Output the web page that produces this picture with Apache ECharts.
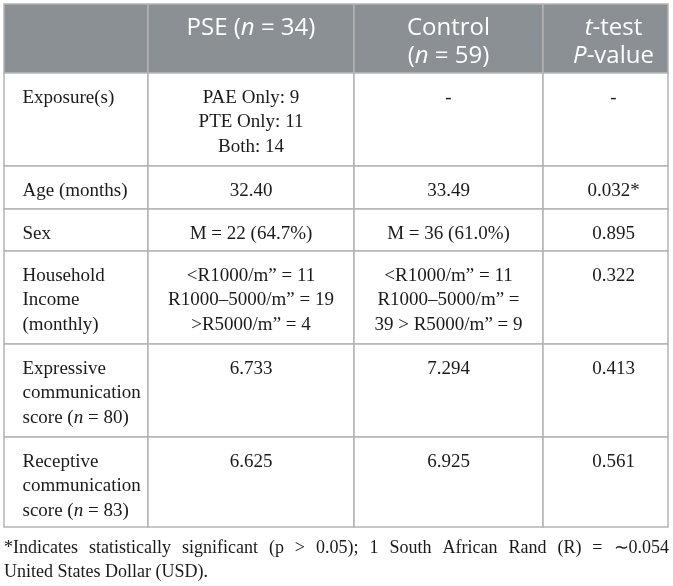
<!DOCTYPE html>
<html>
<head>
<meta charset="utf-8">
<script src="https://cdn.jsdelivr.net/npm/echarts@6/dist/echarts.min.js"></script>
<style>
  html, body { margin: 0; padding: 0; background: #ffffff; }
  #chart { width: 673px; height: 586px; }
</style>
</head>
<body>
<div id="chart"></div>
<script>
// ---------- DATA (text of the table) ----------
// "_x_" marks an italic fragment
const headers = ['', 'PSE (_n_ = 34)', 'Control\n(_n_ = 59)', '_t_-test\n_P_-value'];
const rowLabels = [
  'Exposure(s)',
  'Age (months)',
  'Sex',
  'Household\nIncome\n(monthly)',
  'Expressive\ncommunication\nscore (_n_ = 80)',
  'Receptive\ncommunication\nscore (_n_ = 83)'
];
const pseValues = [
  'PAE Only: 9\nPTE Only: 11\nBoth: 14',
  '32.40',
  'M = 22 (64.7%)',
  '<R1000/m\u201d = 11\nR1000\u20135000/m\u201d = 19\n>R5000/m\u201d = 4',
  '6.733',
  '6.625'
];
const controlValues = [
  '-',
  '33.49',
  'M = 36 (61.0%)',
  '<R1000/m\u201d = 11\nR1000\u20135000/m\u201d =\n39 > R5000/m\u201d = 9',
  '7.294',
  '6.925'
];
const pValues = ['-', '0.032*', '0.895', '0.322', '0.413', '0.561'];
const footnoteLines = [
  '*Indicates statistically significant (p > 0.05); 1 South African Rand (R) = \u223c0.054',
  'United States Dollar (USD).'
];

// ---------- LAYOUT (table units = px inside the grid) ----------
const colEdges = [0, 144, 350, 539, 664];
const rowEdges = [0, 69, 162, 205, 247, 340, 433, 523];
const colAnchor = [18.5, 247, 444.5, 609.5];
const headFirst = 24, headGap = 28.5;
const bodyFirst = 25, bodyGap = 24.5;

const columnsData = [rowLabels, pseValues, controlValues, pValues];
function cellText(c, r) {
  return r === 0 ? headers[c] : columnsData[c][r - 1];
}
function toRich(line) {
  const parts = line.split('_');
  let out = '';
  parts.forEach((p, i) => {
    if (p.length) out += '{' + (i % 2 ? 'i' : 'r') + '|' + p + '}';
  });
  return out;
}

const HEAD_FONT = '"Open Sans", "DejaVu Sans", sans-serif';
const BODY_FONT = '"Liberation Serif", "DejaVu Serif", serif';
const headRich = {
  r: { fontFamily: HEAD_FONT, fontSize: 24, fill: '#ffffff' },
  i: { fontFamily: HEAD_FONT, fontSize: 24, fontStyle: 'italic', fill: '#ffffff' }
};
const bodyRich = {
  r: { fontFamily: BODY_FONT, fontSize: 19, fill: '#1a1a1a' },
  i: { fontFamily: BODY_FONT, fontSize: 19, fontStyle: 'italic', fill: '#1a1a1a' }
};

const cells = [];
for (let r = 0; r < rowEdges.length - 1; r++) {
  for (let c = 0; c < colEdges.length - 1; c++) {
    cells.push([c, r]);
  }
}

function renderItem(params, api) {
  const c = api.value(0), r = api.value(1);
  const p1 = api.coord([colEdges[c], rowEdges[r]]);
  const p2 = api.coord([colEdges[c + 1], rowEdges[r + 1]]);
  const isHead = r === 0;
  const children = [{
    type: 'rect',
    shape: { x: p1[0], y: p1[1], width: p2[0] - p1[0], height: p2[1] - p1[1] },
    style: { fill: isHead ? '#8a9093' : '#ffffff', stroke: '#b4b4b4', lineWidth: 1.5 }
  }];
  const lines = cellText(c, r).split('\n');
  lines.forEach((ln, i) => {
    if (!ln) return;
    const y = rowEdges[r] + (isHead ? headFirst : bodyFirst) + i * (isHead ? headGap : bodyGap);
    const p = api.coord([colAnchor[c], y]);
    children.push({
      type: 'text',
      z2: 10,
      style: {
        text: toRich(ln),
        rich: isHead ? headRich : bodyRich,
        x: p[0], y: p[1],
        align: c === 0 ? 'left' : 'center',
        verticalAlign: 'middle',
        fill: isHead ? '#ffffff' : '#1a1a1a',
        fontFamily: isHead ? HEAD_FONT : BODY_FONT,
        fontSize: isHead ? 24 : 19
      }
    });
  });
  return { type: 'group', children: children };
}

// ---------- Footnote (justified first line) ----------
const FOOT_SIZE = 18;
const footLeft = 4, footRight = 669;
const footY = [548, 572];
const mctx = document.createElement('canvas').getContext('2d');
mctx.font = FOOT_SIZE + 'px "Liberation Serif"';
const footElements = [];
(function () {
  const words = footnoteLines[0].split(' ');
  const widths = words.map(w => mctx.measureText(w).width);
  const total = widths.reduce((a, b) => a + b, 0);
  const gap = (footRight - footLeft - total) / (words.length - 1);
  let x = footLeft;
  words.forEach((w, i) => {
    footElements.push({
      type: 'text', x: x, y: footY[0],
      style: { text: w, font: FOOT_SIZE + 'px "Liberation Serif"', fill: '#1a1a1a', verticalAlign: 'middle', align: 'left' }
    });
    x += widths[i] + gap;
  });
  footElements.push({
    type: 'text', x: footLeft, y: footY[1],
    style: { text: footnoteLines[1], font: FOOT_SIZE + 'px "Liberation Serif"', fill: '#1a1a1a', verticalAlign: 'middle', align: 'left' }
  });
})();

const chart = echarts.init(document.getElementById('chart'), null, { renderer: 'canvas' });
chart.setOption({
  animation: false,
  backgroundColor: '#ffffff',
  grid: { left: 4, top: 4, width: 664, height: 523 },
  xAxis: { type: 'value', min: 0, max: 664, show: false },
  yAxis: { type: 'value', min: 0, max: 523, inverse: true, show: false },
  series: [{
    type: 'custom',
    renderItem: renderItem,
    clip: false,
    silent: true,
    encode: { x: 0, y: 1 },
    data: cells
  }],
  graphic: { elements: footElements }
});
</script>
</body>
</html>
